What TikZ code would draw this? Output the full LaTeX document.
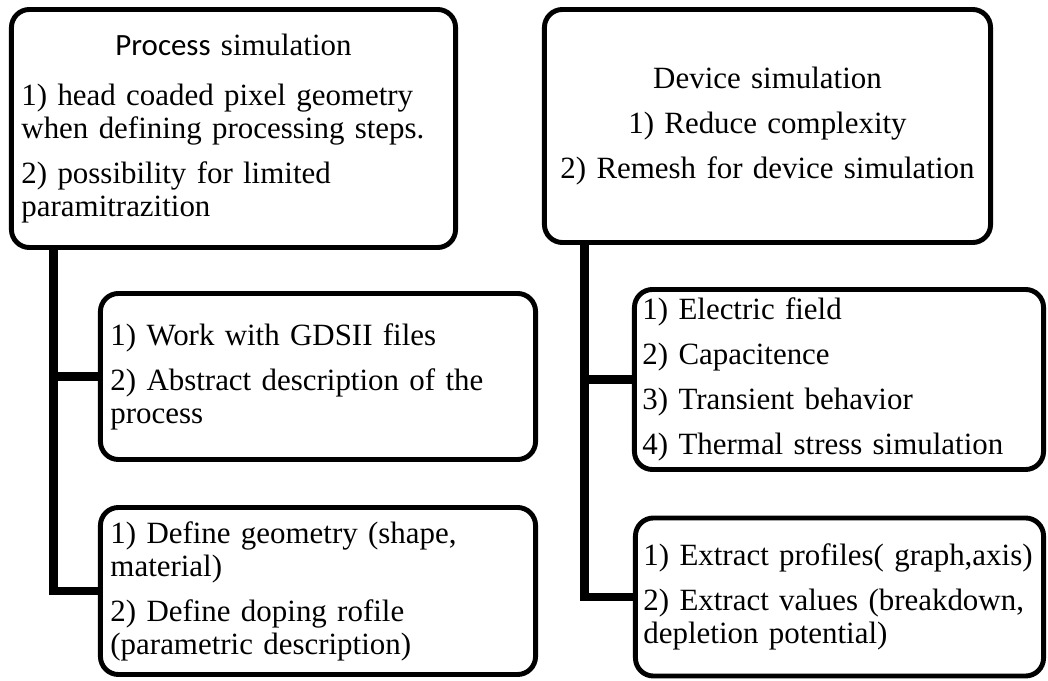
\documentclass[tikz,border=0pt]{standalone}
\usepackage{fontspec}
\setmainfont{Liberation Serif}
\newfontfamily\calibri{Carlito}
\usetikzlibrary{positioning,calc}
\tikzset{
  box/.style={rectangle, rounded corners=0.45cm, draw=black, line width=3.5pt,
    fill=white, inner xsep=0.25cm, inner ysep=0pt, align=left,
    font=\fontsize{22}{23.5}\selectfont},
  cbox/.style={box, align=center},
  trunk/.style={draw=black, line width=6pt}
}
\newcommand{\itemgap}{\\[8.5pt]}

\begin{document}
\begin{tikzpicture}[x=0.025cm, y=-0.025cm]
  \useasboundingbox (0,0) rectangle (1048,681);
  % top level
  \node[box, text width=10.6cm, minimum height=5.95cm] (proc) at (233.5,128.5)
    {\makebox[\linewidth][c]{{\calibri Process} simulation}\\[12pt]
     1) head coaded pixel geometry\\ when defining processing steps.\itemgap
     2) possibility for limited\\ paramitrazition};
  \node[cbox, text width=10.65cm, minimum height=5.825cm] (dev) at (767.5,126)
    {Device simulation\itemgap 1) Reduce complexity\itemgap 2) Remesh for device simulation};
  % process branch
  \node[box, text width=10.375cm, minimum height=4.15cm] (pgds) at (318,376.5)
    {1) Work with GDSII files\itemgap 2) Abstract description of the\\ process};
  \node[box, text width=10.375cm, minimum height=4.175cm] (pgeo) at (318,591)
    {1) Define geometry (shape,\\ material)\itemgap 2) Define doping rofile\\ (parametric description)};
  % device branch
  \node[box, inner xsep=0.2cm, text width=9.825cm, minimum height=4.5cm] (dphys) at (839,379.5)
    {1) Electric field\itemgap 2) Capacitence\itemgap 3) Transient behavior\itemgap 4) Thermal stress simulation};
  \node[box, inner xsep=0.2cm, text width=9.8cm, minimum height=3.95cm] (dext) at (839.5,597)
    {1) Extract profiles( graph,axis)\itemgap 2) Extract values (breakdown,\\ depletion potential)};
  % connectors
  \coordinate (ltop) at ($(proc.south west)+(44.5,0)$);
  \coordinate (rtop) at ($(dev.south west)+(42.5,0)$);
  \draw[trunk] (ltop) |- (pgds.west);
  \draw[trunk] (ltop) |- (pgeo.west);
  \draw[trunk] (rtop) |- (dphys.west);
  \draw[trunk] (rtop) |- (dext.west);
\end{tikzpicture}
\end{document}
